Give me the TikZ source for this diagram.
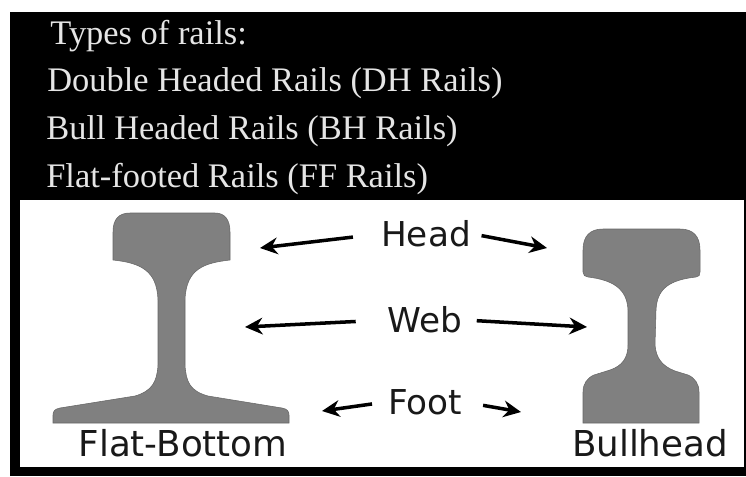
\documentclass[tikz,border=0pt]{standalone}
\usepackage{fontspec}
\setmainfont{Liberation Serif}
\setsansfont{DejaVu Sans}
\usetikzlibrary{arrows.meta}
\tikzset{
    titleline/.style={anchor=base west, inner sep=0pt, text=white!90!black, font=\rmfamily\fontsize{19.6}{22}\selectfont},
    partlabel/.style={inner sep=1pt, text=black!90, font=\sffamily\fontsize{19.5}{22}\selectfont},
    railname/.style={inner sep=0pt, text=black!90, font=\sffamily\fontsize{20.3}{23}\selectfont},
    railshape/.style={fill=black!50, draw=black!60, line width=0.3pt},
    pointer/.style={-{Stealth[length=10pt,width=9.5pt]}, line width=2pt, black}
}

\begin{document}
\begin{tikzpicture}[x=0.02cm,y=-0.02cm]

    \useasboundingbox (0,0) rectangle (746,476);

    % Black board and white panel
    \fill[black] (10,12) rectangle (746,476);
    \fill[white] (20,200) rectangle (744,467);

    % Title lines
    \foreach \x/\y/\t [count=\i from 1] in {50/45/{Types of rails:},47/92/{Double Headed Rails (DH Rails)},46/140/{Bull Headed Rails (BH Rails)},46/188/{Flat-footed Rails (FF Rails)}} {
        \node[titleline] (line\i) at (\x,\y) {\t};
    }

    % Flat-bottom rail
    \draw[railshape] (113,232) .. controls (113,219) and (119,213) .. (130,213)
        -- (215,213) .. controls (225,213) and (230,220) .. (230,232)
        -- (230,260) .. controls (205,263) and (186,268) .. (185,300)
        -- (185,365) .. controls (186,382) and (190,391) .. (208,396)
        -- (282,408) .. controls (287,409) and (289,411) .. (289,415)
        -- (289,423) -- (53,423) -- (53,415) .. controls (53,411) and (55,409) .. (60,408)
        -- (135,396) .. controls (152,391) and (157,382) .. (158,365)
        -- (158,300) .. controls (157,270) and (140,263) .. (113,260) -- cycle;

    % Bullhead rail
    \draw[railshape] (583,250) .. controls (583,236) and (590,229) .. (603,229)
        -- (680,229) .. controls (693,229) and (700,236) .. (700,250)
        -- (700,272) .. controls (700,275) and (699,277) .. (696,277)
        .. controls (670,280) and (657,288) .. (656,310)
        -- (655,345) .. controls (656,358) and (662,366) .. (675,371)
        -- (688,375) .. controls (695,378) and (699,384) .. (699,392)
        -- (699,423) -- (583,423) -- (583,392) .. controls (583,384) and (587,378) .. (594,375)
        -- (610,370) .. controls (622,366) and (628,358) .. (628,345)
        -- (628,310) .. controls (627,288) and (612,280) .. (588,277)
        .. controls (585,277) and (583,275) .. (583,272) -- cycle;

    % Part labels
    \node[partlabel] (head) at (426,234) {Head};
    \node[partlabel] (web) at (425,320) {Web};
    \node[partlabel] (foot) at (425,402) {Foot};

    % Rail names
    \node[railname] (flatname) at (183,443) {Flat-Bottom};
    \node[railname] (bullname) at (650,443) {Bullhead};

    % Arrow ends
    \coordinate (headL) at (260,248);
    \coordinate (headR) at (547,248);
    \coordinate (webL) at (245,327);
    \coordinate (webR) at (587,327);
    \coordinate (footL) at (322,411);
    \coordinate (footR) at (521,412);

    % Arrows
    \draw[pointer, shorten <=15pt] (head.west) -- (headL);
    \draw[pointer, shorten <=5pt] (head.east) -- (headR);
    \draw[pointer, shorten <=17pt] (web.west) -- (webL);
    \draw[pointer, shorten <=7pt] (web.east) -- (webR);
    \draw[pointer, shorten <=8pt] (foot.west) -- (footL);
    \draw[pointer, shorten <=11pt] (foot.east) -- (footR);

\end{tikzpicture}
\end{document}
